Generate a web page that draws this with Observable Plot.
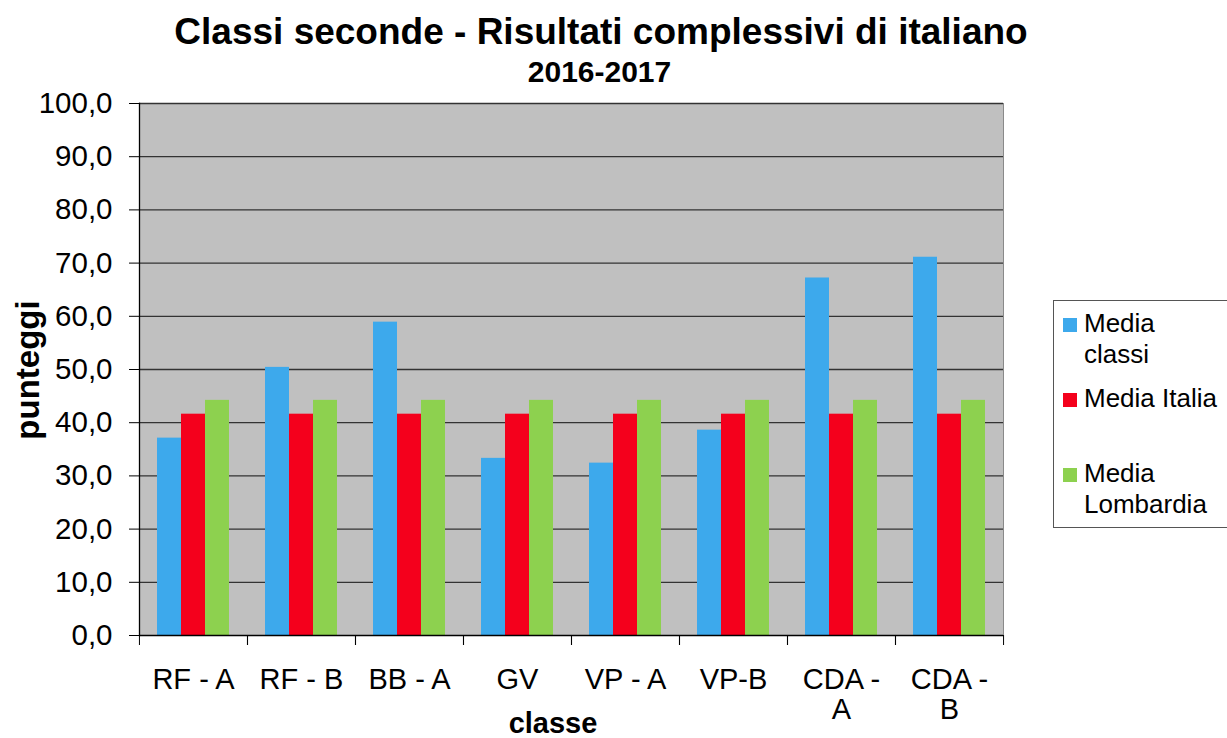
<!DOCTYPE html>
<html>
<head>
<meta charset="utf-8">
<script src="https://cdn.jsdelivr.net/npm/d3@7"></script>
<script src="https://cdn.jsdelivr.net/npm/@observablehq/plot@0.6"></script>
<style>
  html, body { margin: 0; padding: 0; background: #fff; }
  #wrap { position: relative; width: 1227px; height: 738px; overflow: hidden; font-family: "Liberation Sans", Arial, sans-serif; color: #000; }
  #chart { position: absolute; left: 0; top: 0; }
  .t { position: absolute; white-space: nowrap; }
  #title { left: 0; width: 1202px; text-align: center; top: 11px; font-size: 37px; font-weight: bold; }
  #subtitle { left: 0; width: 1199px; text-align: center; top: 55px; font-size: 30px; font-weight: bold; }
  #ylabel { left: 28px; top: 370px; font-size: 33px; font-weight: bold; transform: translate(-50%, -50%) rotate(-90deg); }
  #xlabel { left: 553px; top: 710px; font-size: 29px; line-height: 26px; font-weight: bold; transform: translateX(-50%); }
  #legend { position: absolute; left: 1053px; top: 300px; width: 190px; height: 226px; border: 1px solid #555; background: #fff; }
  .item { position: absolute; left: 9px; font-size: 26px; line-height: 31px; }
  .sw { position: absolute; left: 0; top: 10px; width: 14px; height: 14px; }
  .lab { position: absolute; left: 21px; top: 0; white-space: nowrap; }
</style>
</head>
<body>
<div id="wrap">
  <div id="chart"></div>
  <div class="t" id="title"></div>
  <div class="t" id="subtitle"></div>
  <div class="t" id="ylabel"></div>
  <div class="t" id="xlabel"></div>
  <div id="legend"></div>
</div>
<script>
// ---- data ----
const classi = ["RF - A", "RF - B", "BB - A", "GV", "VP - A", "VP-B", "CDA - A", "CDA - B"];
const tickLabels = ["RF - A", "RF - B", "BB - A", "GV", "VP - A", "VP-B", "CDA -\nA", "CDA -\nB"];
const serie = ["Media classi", "Media Italia", "Media Lombardia"];
const legendLabels = ["Media\nclassi", "Media Italia\n ", "Media\nLombardia"];
const mediaClassi = [37.1, 50.4, 58.9, 33.3, 32.4, 38.6, 67.2, 71.1];
const mediaItalia = [41.6, 41.6, 41.6, 41.6, 41.6, 41.6, 41.6, 41.6];
const mediaLombardia = [44.2, 44.2, 44.2, 44.2, 44.2, 44.2, 44.2, 44.2];
const yTicks = [0, 10, 20, 30, 40, 50, 60, 70, 80, 90, 100];
const colori = ["#3da9ec", "#f4001c", "#8dd14f"];
const titolo = "Classi seconde - Risultati complessivi di italiano";
const sottotitolo = "2016-2017";
const yTitolo = "punteggi";
const xTitolo = "classe";

const seriesValues = [mediaClassi, mediaItalia, mediaLombardia];
const rows = [];
classi.forEach((c, i) => serie.forEach((s, j) => rows.push({classe: c, serie: s, valore: seriesValues[j][i]})));

const fmt = d => d.toFixed(1).replace(".", ",");
const font = "Liberation Sans, Arial, sans-serif";

const chart = Plot.plot({
  width: 1227,
  height: 738,
  marginLeft: 138,
  marginRight: 224,
  marginTop: 103,
  marginBottom: 103,
  style: {fontFamily: font, background: "transparent", color: "#000", overflow: "visible"},
  fx: {domain: classi, padding: 0, label: null},
  x: {domain: serie, paddingInner: 0, paddingOuter: 0.75, axis: null},
  y: {domain: [0, 100], label: null},
  color: {domain: serie, range: colori},
  marks: [
    Plot.frame({fill: "#c0c0c0", stroke: null, facet: "super"}),
    Plot.ruleY(yTicks.slice(1), {stroke: "#333", strokeWidth: 1.3}),
    Plot.frame({anchor: "right", stroke: "#8a8a8a", facet: "super"}),
    Plot.barY(rows, {fx: "classe", x: "serie", y: "valore", fill: "serie"}),
    Plot.ruleY([0], {stroke: "#000", strokeWidth: 1.3}),
    Plot.frame({anchor: "left", stroke: "#000", strokeWidth: 1.3, facet: "super"}),
    Plot.axisY({ticks: yTicks, tickFormat: fmt, tickSize: 10, tickPadding: 17, fontSize: 29.5, label: null, stroke: "#000"}),
    Plot.axisFx({anchor: "bottom", tickSize: 10, dx: -54.06, tickFormat: () => "", label: null, stroke: "#000"}),
    Plot.axisFx({anchor: "bottom", tickSize: 10, dx: 54.06, tickFormat: () => "", label: null, stroke: "#000"}),
    Plot.axisFx({anchor: "bottom", tickSize: 0, tickPadding: 32, fontSize: 29, lineHeight: 1.03, label: null,
      tickFormat: d => tickLabels[classi.indexOf(d)]})
  ]
});
document.getElementById("chart").appendChild(chart);

document.getElementById("title").textContent = titolo;
document.getElementById("subtitle").textContent = sottotitolo;
document.getElementById("ylabel").textContent = yTitolo;
document.getElementById("xlabel").textContent = xTitolo;

const legend = document.getElementById("legend");
const tops = [7, 82, 157];
serie.forEach((s, j) => {
  const it = document.createElement("div");
  it.className = "item";
  it.style.top = tops[j] + "px";
  const sw = document.createElement("div");
  sw.className = "sw";
  sw.style.background = colori[j];
  const lab = document.createElement("div");
  lab.className = "lab";
  lab.innerHTML = legendLabels[j].split("\n").map(t => t.replace(/&/g, "&amp;").replace(/</g, "&lt;")).join("<br>");
  it.appendChild(sw);
  it.appendChild(lab);
  legend.appendChild(it);
});
</script>
</body>
</html>
